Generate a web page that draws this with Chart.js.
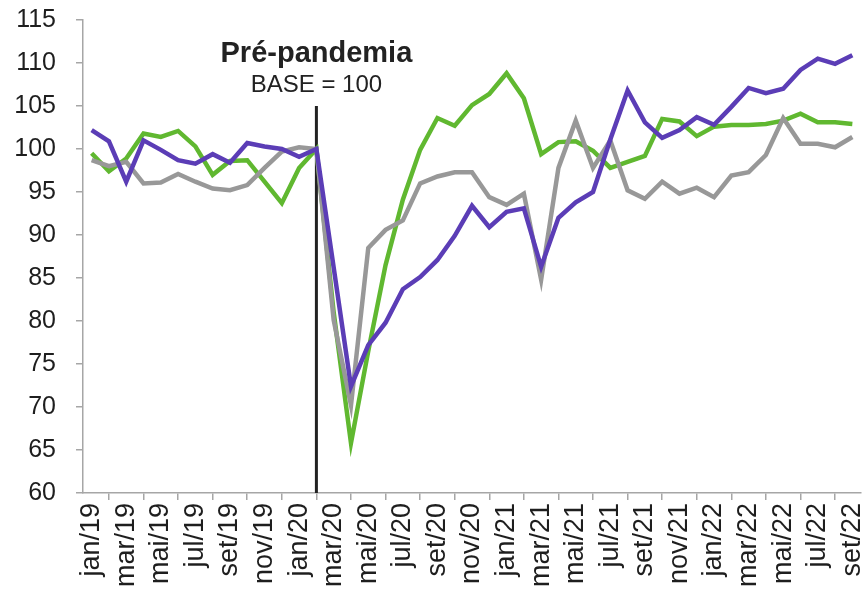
<!DOCTYPE html>
<html>
<head>
<meta charset="utf-8">
<script src="https://cdn.jsdelivr.net/npm/chart.js@4/dist/chart.umd.min.js"></script>
<style>
  html, body { margin: 0; padding: 0; background: #ffffff; }
  #wrap { position: relative; width: 866px; height: 595px; }
</style>
</head>
<body>
<div id="wrap"><canvas id="c"></canvas></div>
<script>
const categories = [
  'jan/19','fev/19','mar/19','abr/19','mai/19','jun/19','jul/19','ago/19','set/19','out/19','nov/19','dez/19',
  'jan/20','fev/20','mar/20','abr/20','mai/20','jun/20','jul/20','ago/20','set/20','out/20','nov/20','dez/20',
  'jan/21','fev/21','mar/21','abr/21','mai/21','jun/21','jul/21','ago/21','set/21','out/21','nov/21','dez/21',
  'jan/22','fev/22','mar/22','abr/22','mai/22','jun/22','jul/22','ago/22','set/22'
];
const seriesPurple = [
  102.2, 100.9, 96.2, 101.0, 99.9, 98.7, 98.3, 99.4, 98.4, 100.7, 100.3, 100.0,
  99.1, 100.0, 86.2, 72.4, 77.2, 79.8, 83.7, 85.1, 87.1, 89.9, 93.4, 90.9,
  92.7, 93.1, 86.3, 92.0, 93.8, 95.0, 101.1, 106.8, 103.1, 101.3, 102.2, 103.7,
  102.8, 104.9, 107.1, 106.5, 107.0, 109.2, 110.5, 109.9, 110.9
];
const seriesGray = [
  98.7, 98.0, 98.5, 96.0, 96.1, 97.1, 96.2, 95.4, 95.2, 95.8, 97.8, 99.7,
  100.2, 100.0, 80.1, 70.2, 88.5, 90.6, 91.7, 96.0, 96.8, 97.3, 97.3, 94.4,
  93.5, 94.8, 84.8, 97.8, 103.3, 97.8, 101.0, 95.2, 94.2, 96.2, 94.8, 95.5,
  94.4, 96.9, 97.3, 99.3, 103.6, 100.6, 100.6, 100.2, 101.4
];
const seriesGreen = [
  99.5, 97.4, 98.9, 101.8, 101.4, 102.1, 100.3, 97.0, 98.6, 98.7, 96.2, 93.7,
  97.8, 100.0, 81.0, 65.8, 76.5, 86.5, 94.1, 99.9, 103.6, 102.7, 105.1, 106.4,
  108.8, 105.9, 99.4, 100.8, 100.9, 99.8, 97.8, 98.5, 99.2, 103.5, 103.2, 101.5,
  102.6, 102.8, 102.8, 102.9, 103.3, 104.1, 103.1, 103.1, 102.9
];
const yMin = 60, yMax = 115, yStep = 5;
const markerCategory = 'fev/20';
const markerTop = 105;
const markerTitle = 'Pré-pandemia';
const markerSubtitle = 'BASE = 100';

const FONT = "'Liberation Sans', Arial, Helvetica, sans-serif";
const AXIS = '#a6a6a6';
const TEXT = '#1e1e1e';

const markerPlugin = {
  id: 'marker',
  beforeDatasetsDraw(chart) {
    const x = chart.scales.x.getPixelForValue(categories.indexOf(markerCategory));
    const y0 = chart.scales.y.getPixelForValue(markerTop);
    const y1 = chart.scales.y.getPixelForValue(yMin);
    const ctx = chart.ctx;
    ctx.save();
    ctx.strokeStyle = '#222222';
    ctx.lineWidth = 3;
    ctx.beginPath();
    ctx.moveTo(x, y0);
    ctx.lineTo(x, y1);
    ctx.stroke();
    ctx.restore();
  },
  afterDraw(chart) {
    const x = chart.scales.x.getPixelForValue(categories.indexOf(markerCategory));
    const ctx = chart.ctx;
    ctx.save();
    ctx.fillStyle = '#222222';
    ctx.textAlign = 'center';
    ctx.textBaseline = 'alphabetic';
    ctx.font = "bold 29px " + FONT;
    ctx.fillText(markerTitle, x, 62);
    ctx.font = "24px " + FONT;
    ctx.fillText(markerSubtitle, x, 92);
    ctx.restore();
  }
};

new Chart(document.getElementById('c'), {
  type: 'line',
  data: {
    labels: categories,
    datasets: [
      { label: 'Roxo', data: seriesPurple, borderColor: '#5b3db6', backgroundColor: '#5b3db6' },
      { label: 'Cinza', data: seriesGray, borderColor: '#989898', backgroundColor: '#989898' },
      { label: 'Verde', data: seriesGreen, borderColor: '#60b830', backgroundColor: '#60b830' }
    ]
  },
  options: {
    responsive: true,
    maintainAspectRatio: false,
    animation: false,
    events: [],
    elements: {
      point: { radius: 0, hoverRadius: 0 },
      line: { borderWidth: 4.5, tension: 0, fill: false }
    },
    layout: { padding: { top: 20, right: 5, left: 0, bottom: 0 } },
    plugins: { legend: { display: false }, tooltip: { enabled: false } },
    scales: {
      x: {
        type: 'category',
        offset: true,
        grid: { offset: true, drawOnChartArea: false, drawTicks: true, tickLength: 7, color: AXIS, lineWidth: 1.5 },
        border: { display: true, color: AXIS, width: 1.5 },
        ticks: {
          autoSkip: false, minRotation: 90, maxRotation: 90, padding: 3,
          color: TEXT, font: { family: FONT, size: 27 },
          callback: function(v, i) { return i % 2 === 0 ? categories[i] : null; }
        },
        afterFit(scale) { scale.height = 102; scale.paddingLeft = 0; scale.paddingRight = 0; }
      },
      y: {
        min: yMin, max: yMax,
        grid: { drawOnChartArea: false, drawTicks: true, tickLength: 7, color: AXIS, lineWidth: 1.5 },
        border: { display: true, color: AXIS, width: 1.5 },
        ticks: { stepSize: yStep, padding: 20, color: TEXT, font: { family: FONT, size: 25 } },
        afterFit(scale) { scale.width = 83; scale.paddingTop = 0; scale.paddingBottom = 0; }
      }
    }
  },
  plugins: [markerPlugin]
});
</script>
</body>
</html>
